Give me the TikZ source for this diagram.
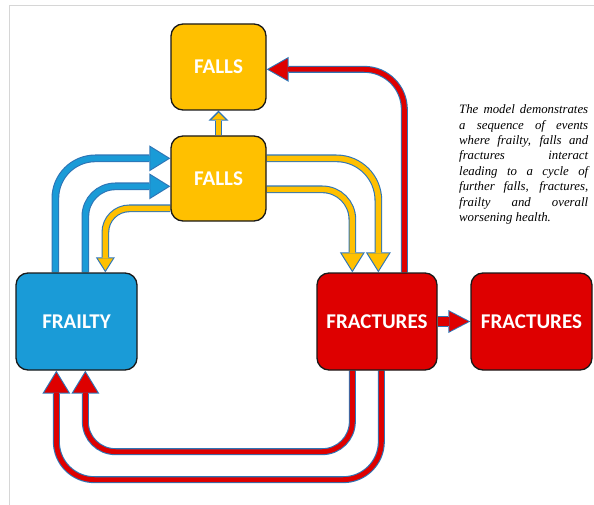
\documentclass[tikz,border=0pt]{standalone}
\usepackage{fontspec}
\setmainfont{Liberation Serif}
\newfontfamily\labelfont{Carlito}
\usetikzlibrary{arrows.meta,calc,backgrounds}

\definecolor{fallsyellow}{HTML}{FFC000}
\definecolor{frailblue}{HTML}{1A9BD7}
\definecolor{fracred}{HTML}{DE0000}
\definecolor{edgeblue}{HTML}{2E75B6}
\definecolor{framegray}{HTML}{D6D6D6}

\tikzset{
  box/.style={draw=black!90, line width=1.3pt, rounded corners=12pt, inner sep=0pt,
    font=\labelfont\bfseries\fontsize{21}{25}\selectfont, text=white},
  notetext/.style={anchor=north west, inner sep=0pt, text width=129pt, align=justify,
    font=\itshape\fontsize{12.8}{15.45}\selectfont, text=black},
}

% Block arrow with a thin blue outline:
% [#1] inner shaft width, #2 fill colour, #3 head length, #4 head width, #5 path
\newcommand{\flowarrow}[5][5.5]{%
  \pgfmathsetmacro{\fwout}{#1+2.2}%
  \pgfmathsetmacro{\fhlin}{#3-3.2}%
  \pgfmathsetmacro{\fhwin}{(#4)*(#3-3.2)/(#3)}%
  \draw[draw=edgeblue, line width=\fwout pt,
    -{Triangle[length=#3pt, width=#4pt, line width=0pt]}] #5;
  \draw[draw=#2, line width=#1pt, shorten >=2.1pt,
    -{Triangle[length=\fhlin pt, width=\fhwin pt, line width=0pt]}] #5;
}

\begin{document}
\begin{tikzpicture}[x=1pt,y=-1pt]
\useasboundingbox (0,0) rectangle (594,505);

% boxes
\node[box, fill=fallsyellow, minimum width=95pt, minimum height=86pt] (fallstop) at (218.5,67) {FALLS};
\node[box, fill=fallsyellow, minimum width=95pt, minimum height=85pt] (fallsmid) at (218.5,178.5) {FALLS};
\node[box, fill=frailblue, minimum width=121pt, minimum height=97pt] (frailty) at (76.5,321.5) {FRAILTY};
\node[box, fill=fracred, minimum width=120pt, minimum height=97pt] (fracA) at (377,321.5) {FRACTURES};
\node[box, fill=fracred, minimum width=121pt, minimum height=97pt] (fracB) at (531.5,321.5) {FRACTURES};

% explanatory note
\node[notetext] (note) at (459,104.5) {\tolerance=9999\hbadness=10000\hyphenpenalty=10000
The model demonstrates\linebreak
a sequence of events\linebreak
where frailty, falls and\linebreak
fractures interact\linebreak
leading to a cycle of\linebreak
further falls, fractures,\linebreak
frailty and overall\linebreak
worsening health.};

\begin{scope}[on background layer]
  % page frame
  \draw[framegray, line width=1pt] (9,505) -- (9,6) -- (594,6);

  % frailty -> falls
  \flowarrow{frailblue}{21}{26}{($(frailty.north west)+(40,0)$) [rounded corners=40pt] |- ($(fallsmid.north west)+(0,23)$)}
  \flowarrow{frailblue}{21}{26}{($(frailty.north west)+(70,0)$) [rounded corners=30pt] |- ($(fallsmid.north west)+(0,51)$)}

  % falls -> frailty
  \flowarrow{fallsyellow}{15}{19}{($(fallsmid.north west)+(0,73)$) [rounded corners=24pt] -| ($(frailty.north west)+(90,0)$)}

  % falls -> falls
  \flowarrow{fallsyellow}{10}{20}{(fallsmid.north) -- (fallstop.south)}

  % falls -> fractures
  \flowarrow{fallsyellow}{20}{25}{($(fallsmid.north east)+(0,23)$) [rounded corners=42pt] -| ($(fracA.north west)+(62,0)$)}
  \flowarrow{fallsyellow}{20}{25}{($(fallsmid.north east)+(0,54)$) [rounded corners=30pt] -| ($(fracA.north west)+(36,0)$)}

  % fractures -> falls
  \flowarrow[4.8]{fracred}{22}{25}{($(fracA.north west)+(88,0)$) [rounded corners=40pt] |- ($(fallstop.north east)+(0,46)$)}

  % fractures -> fractures
  \flowarrow[8.5]{fracred}{22}{23}{(fracA.east) -- (fracB.west)}

  % fractures -> frailty
  \flowarrow[4.8]{fracred}{23}{28}{($(fracA.south west)+(36,0)$) [rounded corners=30pt] |- ($(frailty.south west)+(70,81)$) -- ($(frailty.south west)+(70,0)$)}
  \flowarrow[4.8]{fracred}{23}{28}{($(fracA.south west)+(65,0)$) [rounded corners=38pt] |- ($(frailty.south west)+(41,109)$) -- ($(frailty.south west)+(41,0)$)}
\end{scope}
\end{tikzpicture}
\end{document}
